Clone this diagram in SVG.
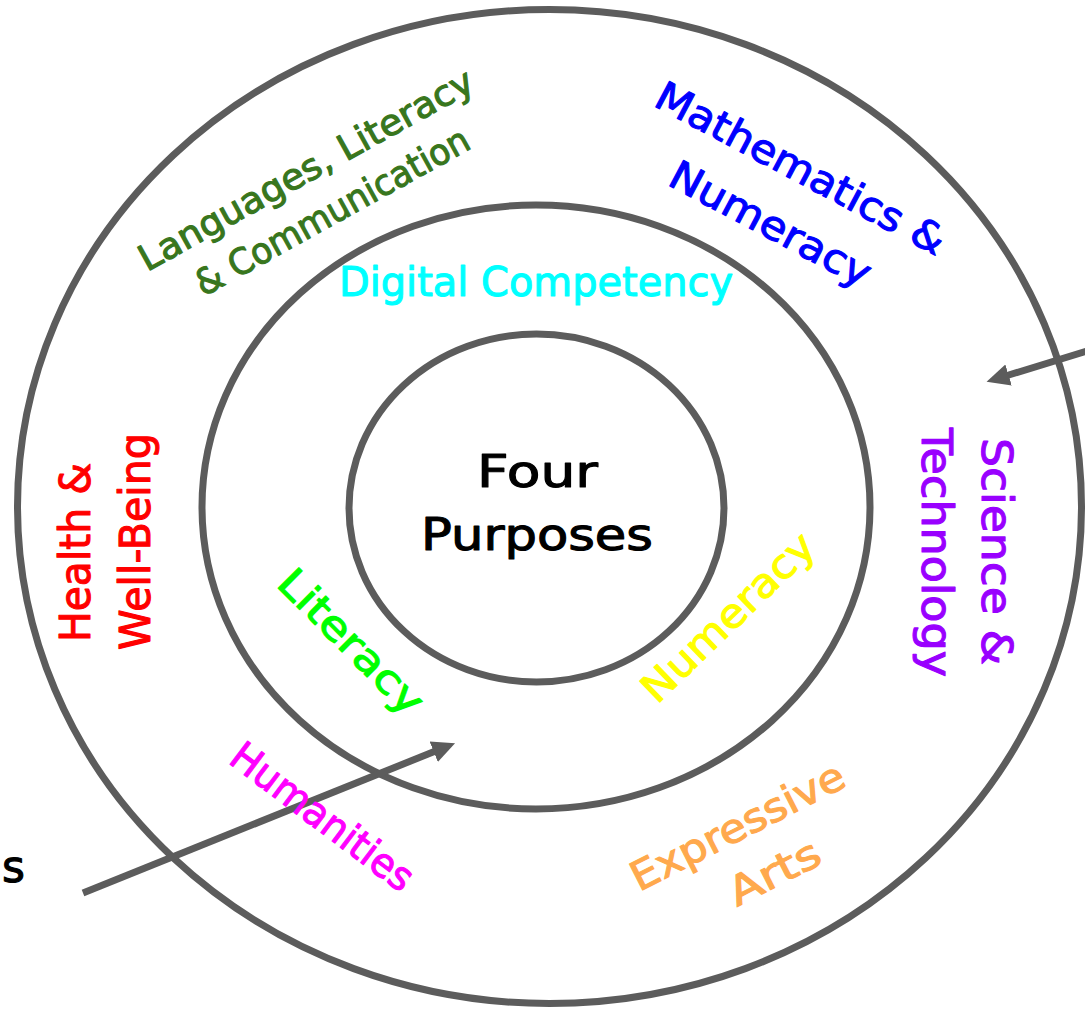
<svg xmlns="http://www.w3.org/2000/svg" width="1085" height="1011" viewBox="0 0 1085 1011">
  <style>
    .ring { fill: none; stroke: #5c5c5c; stroke-width: 7; }
    .conn { fill: none; stroke: #5c5c5c; stroke-width: 7; stroke-linecap: butt; }
    .lbl { font-family: "DejaVu Sans", "Liberation Sans", sans-serif; stroke-width: 1.1; stroke-linejoin: round; }
  </style>
  <defs>
    <marker id="ah" markerUnits="userSpaceOnUse" markerWidth="26" markerHeight="26" viewBox="0 -13 26 26" refX="10" refY="0" orient="auto">
      <path d="M0,-11 L23,0 L0,11 Z" fill="#5c5c5c"/>
    </marker>
  </defs>
  <rect width="1085" height="1011" fill="#ffffff"/>

  <g id="ring-outer"><ellipse class="ring" cx="549.5" cy="506.5" rx="532" ry="497"/></g>
  <g id="ring-middle"><ellipse class="ring" cx="536" cy="507" rx="334" ry="302"/></g>
  <g id="ring-inner"><ellipse class="ring" cx="536.5" cy="508" rx="187.5" ry="174"/></g>

  <g id="connectors">
    <line class="conn" x1="83" y1="893" x2="443" y2="748" marker-end="url(#ah)"/>
    <line class="conn" x1="1095" y1="348.6" x2="999" y2="378" marker-end="url(#ah)"/>
  </g>

  <g id="four-purposes" class="lbl" fill="#000000" stroke="#000000" font-size="44">
    <text x="477" y="487" textLength="121" lengthAdjust="spacingAndGlyphs">Four</text>
    <text x="421" y="550" textLength="232" lengthAdjust="spacingAndGlyphs">Purposes</text>
  </g>

  <g id="digital-competency" class="lbl" fill="#00ffff" stroke="#00ffff" font-size="40">
    <text x="339" y="296" textLength="394" lengthAdjust="spacingAndGlyphs">Digital Competency</text>
  </g>

  <g id="languages" class="lbl" fill="#38761d" stroke="#38761d" font-size="36">
    <text transform="translate(147,272) rotate(-29)" textLength="377" lengthAdjust="spacingAndGlyphs">Languages, Literacy</text>
    <text transform="translate(203.5,297) rotate(-29)" textLength="308" lengthAdjust="spacingAndGlyphs">&amp; Communication</text>
  </g>

  <g id="mathematics" class="lbl" fill="#0000ff" stroke="#0000ff" font-size="40">
    <text transform="translate(652,105) rotate(28)" textLength="322" lengthAdjust="spacingAndGlyphs">Mathematics &amp;</text>
    <text transform="translate(666,184) rotate(28)" textLength="222" lengthAdjust="spacingAndGlyphs">Numeracy</text>
  </g>

  <g id="health" class="lbl" fill="#ff0000" stroke="#ff0000" font-size="42">
    <text transform="translate(90,642) rotate(-90)" textLength="179" lengthAdjust="spacingAndGlyphs">Health &amp;</text>
    <text transform="translate(150,650) rotate(-90)" textLength="217" lengthAdjust="spacingAndGlyphs">Well-Being</text>
  </g>

  <g id="science" class="lbl" fill="#9900ff" stroke="#9900ff" font-size="42">
    <text transform="translate(982,438) rotate(90)" textLength="227" lengthAdjust="spacingAndGlyphs">Science &amp;</text>
    <text transform="translate(922,428) rotate(90)" textLength="249" lengthAdjust="spacingAndGlyphs">Technology</text>
  </g>

  <g id="literacy" class="lbl" fill="#00ff00" stroke="#00ff00" font-size="40">
    <text transform="translate(275,585) rotate(45)" textLength="188" lengthAdjust="spacingAndGlyphs">Literacy</text>
  </g>

  <g id="numeracy" class="lbl" fill="#ffff00" stroke="#ffff00" font-size="40">
    <text transform="translate(657,705) rotate(-44)" textLength="224" lengthAdjust="spacingAndGlyphs">Numeracy</text>
  </g>

  <g id="humanities" class="lbl" fill="#ff00ff" stroke="#ff00ff" font-size="40">
    <text transform="translate(227,762) rotate(37)" textLength="218" lengthAdjust="spacingAndGlyphs">Humanities</text>
  </g>

  <g id="expressive-arts" class="lbl" fill="#ffa94d" stroke="#ffa94d" font-size="40">
    <text transform="translate(639,892) rotate(-27)" textLength="235" lengthAdjust="spacingAndGlyphs">Expressive</text>
    <text transform="translate(737,907) rotate(-27)" textLength="98" lengthAdjust="spacingAndGlyphs">Arts</text>
  </g>

  <g id="cut-label" class="lbl" fill="#000000" stroke="#000000" font-size="44">
    <text x="2" y="882">s</text>
  </g>
</svg>
